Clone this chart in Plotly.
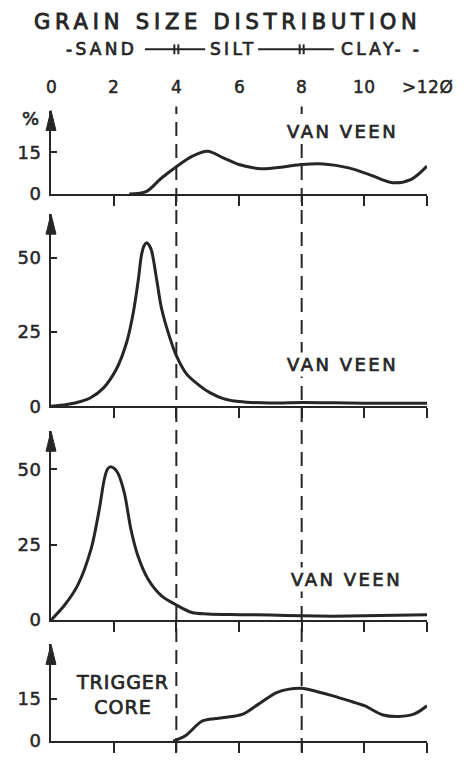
import plotly.graph_objects as go

# ---------------- data ----------------
phi_tick_vals = [0, 2, 4, 6, 8, 10, 12]
phi_tick_text = ["0", "2", "4", "6", "8", "10", ">12Ø"]
x_tick_vals = [2, 4, 6, 8, 10, 12]
class_bounds = [4, 8]          # sand/silt and silt/clay limits (phi)

phi1 = [2.5, 3.05, 3.5, 4.0, 4.5, 5.0, 5.5, 6.0, 6.7, 7.4, 8.0, 8.7, 9.5, 10.2, 10.9, 11.5, 12.0]
pct1 = [0, 1.0, 5.5, 9.8, 13.5, 15.3, 13.0, 10.6, 9.1, 9.7, 10.6, 10.8, 9.4, 6.8, 4.1, 5.3, 10.0]

phi2 = [0, 0.5, 1.0, 1.25, 1.67, 2.1, 2.42, 2.63, 2.79, 2.89, 2.97, 3.05, 3.13, 3.21, 3.37, 3.53,
        3.8, 4.0, 4.33, 4.76, 5.07, 5.5, 6.0, 7.0, 8.0, 9.0, 10.0, 11.0, 12.0]
pct2 = [0, 0.6, 1.8, 2.8, 6.1, 12.8, 21.7, 31.7, 42.8, 51.0, 54.0, 55.0, 54.2, 52.3, 42.8, 32.8,
        22.8, 17.0, 10.8, 6.8, 4.6, 2.6, 1.6, 1.1, 1.3, 1.2, 1.0, 1.0, 1.0]

phi3 = [0, 0.43, 0.85, 1.28, 1.54, 1.70, 1.80, 1.89, 2.0, 2.13, 2.34, 2.55, 2.77, 3.09, 3.51, 4.0,
        4.5, 5.0, 6.0, 7.0, 8.0, 9.0, 10.0, 11.0, 12.0]
pct3 = [0, 4.9, 11.5, 23.6, 36.7, 46.6, 50.0, 50.8, 50.4, 48.8, 42.2, 30.1, 21.4, 13.7, 8.2, 5.0,
        2.5, 2.0, 1.8, 1.7, 1.4, 1.3, 1.4, 1.6, 1.8]

phi4 = [3.9, 4.3, 4.8, 5.2, 5.6, 6.1, 6.6, 7.2, 7.6, 8.0, 8.5, 9.0, 9.5, 10.0, 10.6, 11.1, 11.6, 12.0]
pct4 = [0, 2.0, 7.0, 8.0, 8.5, 9.5, 13.0, 17.3, 18.5, 18.8, 17.6, 16.1, 14.4, 12.6, 9.3, 8.8, 9.7, 12.6]

y_tick_vals = [[0, 15], [0, 25, 50], [0, 25, 50], [0, 15]]
y_max = [29.9, 64.6, 62.6, 34.4]
panel_labels = [["VAN VEEN"], ["VAN VEEN"], ["VAN VEEN"], ["TRIGGER", "CORE"]]

title_text = "GRAIN SIZE DISTRIBUTION"
class_names = ["-SAND", "SILT", "CLAY- -"]

# ---------------- layout helpers ----------------
W, H = 464, 763
ML, MR = 51, 37
INK = "#262626"
FONT = "DejaVu Sans"


def py(v):
    return 1 - v / H


def px(v):
    return (v - ML) / (W - ML - MR)


def heavy(t, ls=0.0, sw=0.7):
    return ("<span style='letter-spacing:%spx;stroke:%s;stroke-width:%spx'>%s</span>"
            % (ls, INK, sw, t))


# (bottom pixel, top pixel) of each panel
panel_px = [(196.7, 112), (411.7, 217), (628.3, 437), (751, 653)]

xs = [phi1, phi2, phi3, phi4]
ys = [pct1, pct2, pct3, pct4]

fig = go.Figure()
layout = dict(
    width=W, height=H,
    margin=dict(l=ML, r=MR, t=0, b=0),
    paper_bgcolor="white", plot_bgcolor="white",
    showlegend=False,
    font=dict(family=FONT, color=INK),
)
shapes = []
annotations = []

for i in range(4):
    n = "" if i == 0 else str(i + 1)
    fig.add_trace(go.Scatter(
        x=xs[i], y=ys[i], mode="lines",
        line=dict(color=INK, width=3, shape="spline", smoothing=0.9),
        xaxis="x" + n, yaxis="y" + n, cliponaxis=False, hoverinfo="skip",
    ))
    bot, top = panel_px[i]
    layout["xaxis" + n] = dict(
        range=[0, 12], domain=[0, 1], anchor="y" + n,
        showline=True, linecolor=INK, linewidth=2,
        ticks="outside", ticklen=10, tickwidth=2, tickcolor=INK,
        tickvals=x_tick_vals, showticklabels=False,
        showgrid=False, zeroline=False, fixedrange=True,
    )
    layout["yaxis" + n] = dict(
        range=[0, y_max[i]], domain=[py(bot), py(top)], anchor="x" + n,
        showline=True, linecolor=INK, linewidth=2,
        ticks="inside", ticklen=6, tickwidth=2, tickcolor=INK,
        tickvals=y_tick_vals[i], ticktext=[heavy(str(v), 0.5, 0.5) for v in y_tick_vals[i]],
        ticklabelstandoff=4,
        tickfont=dict(size=18, family=FONT, color=INK),
        showgrid=False, zeroline=False, fixedrange=True,
    )
    # arrow head at top of y axis
    shapes.append(dict(
        type="path", xref="paper", yref="paper",
        xsizemode="pixel", ysizemode="pixel",
        xanchor=0, yanchor=py(top),
        path="M0,0 L-5,-20 L5,-20 Z",
        fillcolor=INK, line=dict(color=INK, width=1),
    ))

# panel labels
label_pos = [(9.29, 22.5), (9.29, 13.9), (9.42, 13.3), (2.27, 16.5)]
for i, lab in enumerate(panel_labels):
    n = "" if i == 0 else str(i + 1)
    if i < 3:
        txt = heavy(lab[0], 2.5)
        fs = 18
    else:
        txt = "<br>".join(heavy(s, 1.0) for s in lab)
        fs = 19
    annotations.append(dict(
        x=label_pos[i][0], y=label_pos[i][1], xref="x" + n, yref="y" + n,
        text=txt, showarrow=False, font=dict(size=fs, family=FONT, color=INK),
        bgcolor="white" if i < 3 else None, borderpad=1,
        xanchor="center", yanchor="middle",
    ))

# class boundary dashed lines
for b in class_bounds:
    shapes.append(dict(
        type="line", xref="x", yref="paper", x0=b, x1=b,
        y0=py(762), y1=py(108),
        line=dict(color=INK, width=2, dash="14px,8px"), layer="below",
    ))

# top phi scale labels
for v, t in zip(phi_tick_vals, phi_tick_text):
    annotations.append(dict(
        x=v, y=py(88), xref="x", yref="paper", text=heavy(t, 0.5, 0.5), showarrow=False,
        font=dict(size=17, family=FONT, color=INK), xanchor="center", yanchor="middle",
    ))

# % label
annotations.append(dict(
    x=px(30), y=py(120), xref="paper", yref="paper", text=heavy("%", 0, 0.6), showarrow=False,
    font=dict(size=18, family=FONT, color=INK), xanchor="center", yanchor="middle",
))

# title
annotations.append(dict(
    x=px(228), y=py(22), xref="paper", yref="paper",
    text=heavy(title_text, 4.8, 0.9), showarrow=False,
    font=dict(size=21, family=FONT, color=INK), xanchor="center", yanchor="middle",
))

# class names line
class_x = [1.61, 5.81, 10.55]
for cx, nm in zip(class_x, class_names):
    annotations.append(dict(
        x=cx, y=py(50), xref="x", yref="paper",
        text=heavy(nm, 3.3, 0.7), showarrow=False,
        font=dict(size=17, family=FONT, color=INK), xanchor="center", yanchor="middle",
    ))
for x0, x1 in [(3.0, 4.92), (6.61, 9.03)]:
    shapes.append(dict(type="line", xref="x", yref="paper", x0=x0, x1=x1,
                       y0=py(50), y1=py(50), line=dict(color=INK, width=2)))
for b in class_bounds:
    for off in (-2, 2):
        shapes.append(dict(type="line", xref="x", yref="paper", xsizemode="pixel",
                           xanchor=b, x0=off, x1=off, y0=py(55), y1=py(45),
                           line=dict(color=INK, width=2)))

layout["shapes"] = shapes
layout["annotations"] = annotations
fig.update_layout(**layout)
fig.write_html("out.html")
